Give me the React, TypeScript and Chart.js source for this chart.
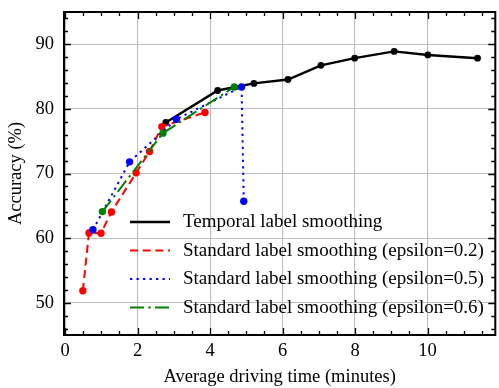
import React, { useEffect, useRef } from 'react';
import { Chart, registerables } from 'chart.js';

Chart.register(...registerables);

// ---- Data ----
const temporalX = [2.78, 4.21, 5.21, 6.15, 7.06, 7.99, 9.08, 10.01, 11.38];
const temporalY = [77.9, 82.85, 83.95, 84.55, 86.75, 87.85, 88.9, 88.35, 87.85];

const eps02X = [0.49, 0.66, 0.99, 1.28, 1.96, 2.33, 2.67, 3.86];
const eps02Y = [51.85, 60.8, 60.75, 64.05, 70.1, 73.4, 77.25, 79.45];

const eps05X = [0.77, 1.78, 3.07, 4.87, 4.93];
const eps05Y = [61.3, 71.8, 78.4, 83.4, 65.7];

const eps06X = [1.03, 2.7, 4.67];
const eps06Y = [64.1, 76.25, 83.4];

const seriesLabels = [
  'Temporal label smoothing',
  'Standard label smoothing (epsilon=0.2)',
  'Standard label smoothing (epsilon=0.5)',
  'Standard label smoothing (epsilon=0.6)',
];

const xMajorTicks = [0, 2, 4, 6, 8, 10];
const yMajorTicks = [50, 60, 70, 80, 90];
const xMinorTicks = [0.5, 1, 1.5, 2.5, 3, 3.5, 4.5, 5, 5.5, 6.5, 7, 7.5, 8.5, 9, 9.5, 10.5, 11, 11.5];
const yMinorTicks = [46, 48, 52, 54, 56, 58, 62, 64, 66, 68, 72, 74, 76, 78, 82, 84, 86, 88, 92, 94];

const xTitle = 'Average driving time (minutes)';
const yTitle = 'Accuracy (%)';

const FONT = '"Liberation Serif", "Times New Roman", Times, serif';
const FONT_SIZE = 18.5;
const LEGEND_FONT_SIZE = 19;

const colors = ['#000000', '#ff0000', '#0000ff', '#008000'];
const dashes: number[][] = [[], [8, 4.7], [2.3, 4.2], [14, 4.3, 2.4, 4.3]];
const widths = [2.4, 2, 2, 2];

const toPts = (xs: number[], ys: number[]) => xs.map((x, i) => ({ x, y: ys[i] }));

const zeroPad = (s: any) => {
  s.paddingTop = 0;
  s.paddingBottom = 0;
  s.paddingLeft = 0;
  s.paddingRight = 0;
};

const framePlugin = {
  id: 'frameTicks',
  afterDraw(chart: any) {
    const { ctx, chartArea } = chart;
    const xs = chart.scales.x;
    const ys = chart.scales.y;
    const { left, right, top, bottom } = chartArea;
    ctx.save();
    ctx.strokeStyle = '#000';
    ctx.lineWidth = 1.3;
    const major = 7;
    const minor = 4;
    ctx.beginPath();
    const xt = (vals: number[], len: number) => {
      vals.forEach((v) => {
        const px = Math.round(xs.getPixelForValue(v)) + 0.5;
        ctx.moveTo(px, bottom);
        ctx.lineTo(px, bottom - len);
        ctx.moveTo(px, top);
        ctx.lineTo(px, top + len);
      });
    };
    const yt = (vals: number[], len: number) => {
      vals.forEach((v) => {
        const py = Math.round(ys.getPixelForValue(v)) + 0.5;
        ctx.moveTo(left, py);
        ctx.lineTo(left + len, py);
        ctx.moveTo(right, py);
        ctx.lineTo(right - len, py);
      });
    };
    xt(xMajorTicks, major);
    xt(xMinorTicks, minor);
    yt(yMajorTicks, major);
    yt(yMinorTicks, minor);
    ctx.stroke();
    ctx.lineWidth = 2;
    ctx.strokeRect(left, top, right - left, bottom - top);
    ctx.restore();
  },
};

const legendPlugin = {
  id: 'insideLegend',
  afterDatasetsDraw(chart: any) {
    const { ctx } = chart;
    ctx.save();
    ctx.font = `${LEGEND_FONT_SIZE}px ${FONT}`;
    ctx.textBaseline = 'middle';
    ctx.textAlign = 'left';
    const x0 = 130;
    const x1 = 170;
    const tx = 183;
    const y0 = 222;
    const dy = 28.5;
    seriesLabels.forEach((label, i) => {
      const y = y0 + i * dy;
      ctx.beginPath();
      ctx.setLineDash(dashes[i]);
      ctx.strokeStyle = colors[i];
      ctx.lineWidth = widths[i];
      ctx.moveTo(x0, y);
      ctx.lineTo(x1, y);
      ctx.stroke();
      ctx.setLineDash([]);
      ctx.fillStyle = '#000';
      ctx.fillText(label, tx, y + 0.5);
    });
    ctx.restore();
  },
};

export default function App() {
  const canvasRef = useRef<HTMLCanvasElement | null>(null);

  useEffect(() => {
    let chart: Chart | null = null;
    let cancelled = false;
    const make = () => {
      if (cancelled || !canvasRef.current) return;
      const xsData = [temporalX, eps02X, eps05X, eps06X];
      const ysData = [temporalY, eps02Y, eps05Y, eps06Y];
      const datasets = xsData.map((xs, i) => ({
        label: seriesLabels[i],
        data: toPts(xs, ysData[i]),
        borderColor: colors[i],
        backgroundColor: colors[i],
        borderWidth: widths[i],
        borderDash: dashes[i],
        pointRadius: i === 0 ? 3.4 : 3.7,
        pointBorderWidth: 0,
        pointBackgroundColor: colors[i],
        pointHoverRadius: 0,
        tension: 0,
        fill: false,
        order: 4 - i,
        clip: false as any,
      }));
      chart = new Chart(canvasRef.current, {
        type: 'line',
        data: { datasets },
        options: {
          animation: false,
          responsive: false,
          events: [],
          layout: { padding: { top: 12, right: 0, left: 0, bottom: 0 } },
          plugins: {
            legend: { display: false },
            tooltip: { enabled: false },
            title: { display: false },
          },
          scales: {
            x: {
              type: 'linear',
              min: -0.03,
              max: 11.87,
              afterBuildTicks: (s: any) => {
                s.ticks = xMajorTicks.map((v) => ({ value: v }));
              },
              afterFit: (s: any) => {
                s.height = 53;
                zeroPad(s);
              },
              ticks: {
                color: '#000',
                padding: 5.5,
                maxRotation: 0,
                autoSkip: false,
                font: { family: FONT, size: FONT_SIZE },
                callback: (v: any) => String(v),
              },
              grid: { color: '#bdbdbd', lineWidth: 1.1, drawTicks: false },
              border: { display: false },
              title: {
                display: true,
                text: xTitle,
                color: '#000',
                font: { family: FONT, size: FONT_SIZE },
                padding: { top: 0, bottom: 0 },
              },
            },
            y: {
              type: 'linear',
              min: 45,
              max: 95,
              afterBuildTicks: (s: any) => {
                s.ticks = yMajorTicks.map((v) => ({ value: v }));
              },
              afterFit: (s: any) => {
                s.width = 64;
                zeroPad(s);
              },
              ticks: {
                color: '#000',
                padding: 10,
                autoSkip: false,
                font: { family: FONT, size: FONT_SIZE },
                callback: (v: any) => String(v),
              },
              grid: { color: '#bdbdbd', lineWidth: 1.1, drawTicks: false },
              border: { display: false },
              title: {
                display: true,
                text: yTitle,
                color: '#000',
                font: { family: FONT, size: FONT_SIZE },
                padding: { top: 5, bottom: 0 },
              },
            },
          },
        },
        plugins: [legendPlugin, framePlugin],
      });
    };
    const fontsAny = (document as any).fonts;
    if (fontsAny && fontsAny.load) {
      fontsAny.load(`${FONT_SIZE}px "Liberation Serif"`).then(make, make);
    } else {
      make();
    }
    return () => {
      cancelled = true;
      if (chart) chart.destroy();
    };
  }, []);

  return (
    <div style={{ position: 'absolute', left: 0, top: 0, width: 499, height: 388, background: '#fff' }}>
      <canvas ref={canvasRef} width={499} height={388} style={{ display: 'block', width: 499, height: 388 }} />
    </div>
  );
}
